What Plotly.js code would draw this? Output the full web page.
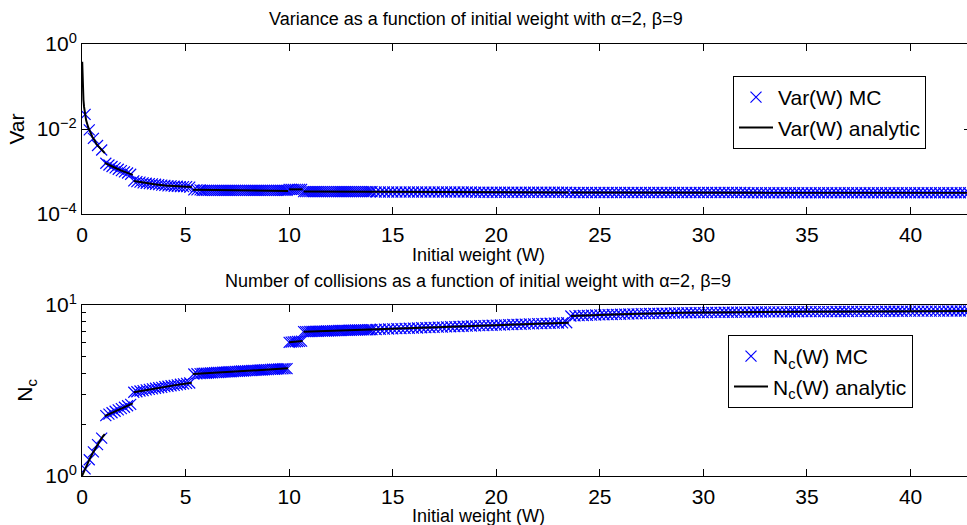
<!DOCTYPE html>
<html><head><meta charset="utf-8">
<script src="https://cdn.plot.ly/plotly-3.0.1.min.js"></script>
<style>html,body{margin:0;padding:0;overflow:hidden;background:#fff}#chart{width:971px;height:525px}</style>
</head><body><div id="chart"></div>
<script>
// ---- data ----
const titleTop = 'Variance as a function of initial weight with α=2, β=9';
const titleBottom = 'Number of collisions as a function of initial weight with α=2, β=9';
const xLabel = 'Initial weight (W)';
const xTickVals = [0, 5, 10, 15, 20, 25, 30, 35, 40];
const varTickVals = [1e-4, 1e-2, 1];
const varTickText = ['10<sup>−4</sup>', '10<sup>−2</sup>', '10<sup>0</sup>'];
const ncTickVals = [1, 10];
const ncTickText = ['10<sup>0</sup>', '10<sup>1</sup>'];
const ncMinorVals = [2, 3, 4, 5, 6, 7, 8, 9];

// Monte Carlo sample weights
const mcW = [
  0.15,0.35,0.55,0.75,0.95,
  1.15,1.3,1.45,1.6,1.75,1.9,2.05,2.2,2.35,
  2.5,2.65,2.8,2.95,3.1,3.25,3.4,3.55,3.7,3.85,4.0,4.15,4.3,4.45,4.6,4.75,4.9,5.05,5.2,
  5.4,5.55,5.7,
  5.8,5.9,6.0,6.1,6.2,6.3,6.4,6.5,6.6,6.7,6.8,6.9,7.0,7.1,7.2,7.3,7.4,7.5,7.6,7.7,7.8,7.9,
  8.0,8.1,8.2,8.3,8.4,8.5,8.6,8.7,8.8,8.9,9.0,9.1,9.2,9.3,9.4,9.5,9.6,9.7,9.8,9.9,
  10.0,10.1,10.2,10.3,10.4,10.5,10.6,
  10.7,10.8,10.9,11.0,11.1,11.2,11.3,11.4,11.5,11.6,11.7,11.8,11.9,12.0,12.1,12.2,12.3,12.4,
  12.5,12.6,12.7,12.8,12.9,13.0,13.1,13.2,13.3,13.4,13.5,13.6,13.7,13.8,13.9,14.0,
  14.2,14.4,14.6,14.8,15.0,15.2,15.4,15.6,15.8,16.0,
  16.2,16.4,16.6,16.8,17.0,17.2,17.4,17.6,17.8,18.0,
  18.2,18.4,18.6,18.8,19.0,19.2,19.4,19.6,19.8,20.0,
  20.2,20.4,20.6,20.8,21.0,21.2,21.4,21.6,21.8,22.0,
  22.2,22.4,22.6,22.8,23.0,23.2,23.4,
  23.6,23.8,24.0,24.2,24.4,24.6,24.8,25.0,25.2,25.4,
  25.6,25.8,26.0,26.2,26.4,26.6,26.8,27.0,27.2,27.4,
  27.6,27.8,28.0,28.2,28.4,28.6,28.8,29.0,29.2,29.4,
  29.6,29.8,30.0,30.2,30.4,30.6,30.8,31.0,31.2,31.4,
  31.6,31.8,32.0,32.2,32.4,32.6,32.8,33.0,33.2,33.4,
  33.6,33.8,34.0,34.2,34.4,34.6,34.8,35.0,35.2,35.4,
  35.6,35.8,36.0,36.2,36.4,36.6,36.8,37.0,37.2,37.4,
  37.6,37.8,38.0,38.2,38.4,38.6,38.8,39.0,39.2,39.4,
  39.6,39.8,40.0,40.2,40.4,40.6,40.8,41.0,41.2,41.4,
  41.6,41.8,42.0,42.2,42.4,42.6,42.8
];
// Var(W) Monte Carlo
const mcVar = [
  0.022,0.0095,0.006,0.0041,0.0032,
  0.00156,0.00142,0.00131,0.00122,0.00113,0.00105,0.00098,0.00092,0.00086,
  0.0006,0.00058,0.00056,0.00054,0.00053,0.00052,0.00051,0.0005,0.00049,0.00048,0.00047,0.00046,0.00046,0.00045,0.00045,0.00044,0.00044,0.00044,0.00043,
  0.00037,0.00037,0.00037,
  0.00036,0.00036,0.00036,0.00036,0.00036,0.00036,0.00036,0.00036,0.00036,0.00036,0.00036,0.00036,0.00036,0.00036,
  0.00036,0.00036,0.00036,0.00036,0.00036,0.00036,0.00036,0.00036,0.00036,0.00036,0.00036,0.00036,0.00036,0.00036,
  0.00036,0.00036,0.00036,0.00036,0.00036,0.00036,0.00036,0.00036,0.00036,0.00036,0.00036,0.00036,0.00036,0.00036,
  0.00038,0.00038,0.00038,0.00038,0.00038,0.00038,0.00038,
  0.000335,0.000335,0.000335,0.000335,0.000335,0.000335,0.000335,0.000335,0.000335,0.000335,0.000335,0.000335,
  0.000335,0.000335,0.000335,0.000335,0.000335,0.000335,0.000335,0.000335,0.000335,0.000335,0.000335,0.000335,
  0.000335,0.000335,0.000335,0.000335,0.000335,0.000335,0.000335,0.000335,0.000335,0.000335,
  0.00033,0.00033,0.00033,0.00033,0.00033,0.00033,0.00033,0.00033,0.00033,0.00033,
  0.00033,0.00033,0.00033,0.00033,0.00033,0.00033,0.00033,0.00033,0.00033,0.00033,
  0.00033,0.00033,0.00033,0.00033,0.000325,0.000325,0.000325,0.000325,0.000325,0.000325,
  0.000325,0.000325,0.000325,0.000325,0.000325,0.000325,0.000325,0.000325,0.000325,0.000325,
  0.000325,0.000325,0.000325,0.000325,0.000325,0.000325,0.000325,
  0.00032,0.00032,0.00032,0.00032,0.00032,0.00032,0.00032,0.00032,0.00032,0.00032,
  0.00032,0.00032,0.00032,0.00032,0.00032,0.00032,0.00032,0.00032,0.00032,0.00032,
  0.00032,0.00032,0.00032,0.00032,0.00032,0.00032,0.00032,0.00032,0.00032,0.00032,
  0.00032,0.00032,0.00032,0.00032,0.00032,0.00032,0.00032,0.00032,0.00032,0.00032,
  0.00032,0.00032,0.00032,0.000316,0.000316,0.000316,0.000316,0.000316,0.000316,0.000316,
  0.000316,0.000316,0.000316,0.000316,0.000316,0.000316,0.000316,0.000316,0.000316,0.000316,
  0.000316,0.000316,0.000316,0.000316,0.000316,0.000316,0.000316,0.000316,0.000316,0.000316,
  0.000316,0.000316,0.000316,0.000316,0.000316,0.000316,0.000316,0.000316,0.000316,0.000316,
  0.000316,0.000316,0.000316,0.000316,0.000316,0.000316,0.000316,0.000316,0.000316,0.000316,
  0.000316,0.000316,0.000316,0.000316,0.000316,0.000316,0.000316
];
// N_c(W) Monte Carlo
const mcNc = [
  1.1,1.245,1.385,1.525,1.665,
  2.255,2.3,2.345,2.39,2.435,2.48,2.525,2.575,2.625,
  3.09,3.11,3.14,3.16,3.19,3.21,3.23,3.26,3.28,3.3,3.33,3.35,3.37,3.39,3.41,3.44,3.46,3.48,3.5,
  3.95,3.96,3.97,
  3.98,3.99,3.99,4.0,4.01,4.01,4.02,4.03,4.03,4.04,4.05,4.05,4.06,4.07,4.07,4.08,4.09,4.09,4.1,4.11,4.11,
  4.12,4.13,4.13,4.14,4.15,4.15,4.16,4.17,4.17,4.18,4.19,4.19,4.2,4.21,4.21,4.22,4.23,4.23,4.24,4.25,4.25,
  6.05,6.07,6.08,6.1,6.12,6.13,6.15,
  6.98,6.99,6.99,7.0,7.0,7.01,7.02,7.02,7.03,7.03,7.04,7.05,7.05,7.06,7.07,7.07,7.08,
  7.09,7.09,7.1,7.1,7.11,7.12,7.12,7.13,7.14,7.14,7.15,7.15,7.16,7.16,7.17,7.17,7.18,
  7.19,7.21,7.22,7.24,7.25,7.27,7.28,7.3,7.31,7.33,
  7.34,7.36,7.37,7.39,7.4,7.42,7.43,7.45,7.46,7.48,
  7.49,7.51,7.52,7.54,7.55,7.57,7.58,7.6,7.61,7.63,
  7.64,7.66,7.67,7.69,7.7,7.72,7.73,7.75,7.76,7.78,
  7.79,7.8,7.82,7.83,7.85,7.86,7.87,
  8.62,8.64,8.66,8.68,8.7,8.72,8.74,8.75,8.77,8.79,
  8.8,8.82,8.83,8.84,8.86,8.87,8.88,8.9,8.91,8.92,
  8.93,8.94,8.95,8.96,8.97,8.98,8.99,9.0,9.01,9.01,
  9.02,9.03,9.03,9.04,9.05,9.05,9.06,9.07,9.07,9.07,
  9.08,9.08,9.09,9.09,9.1,9.1,9.1,9.11,9.11,9.11,
  9.12,9.12,9.12,9.13,9.13,9.13,9.14,9.14,9.14,9.14,
  9.15,9.15,9.15,9.15,9.16,9.16,9.16,9.16,9.17,9.17,
  9.17,9.17,9.18,9.18,9.18,9.18,9.19,9.19,9.19,9.19,
  9.19,9.2,9.2,9.2,9.2,9.2,9.21,9.21,9.21,9.21,
  9.21,9.22,9.22,9.22,9.22,9.22,9.23
];
// analytic curves (null separates the discontinuous branches)
const varLineW = [0.01,0.02,0.04,0.07,0.1,0.15,0.2,0.3,0.4,0.5,0.6,0.7,0.8,0.9,1.0,1.1, null,
  1.1,1.3,1.5,1.7,1.9,2.1,2.3,2.45, null, 2.5,3.0,3.5,4.0,4.5,5.0,5.3, null,
  5.35,7,8.5,9.95, null, 10.0,10.65, null, 10.7,14,18,23.5, null, 23.6,30,36,43];
const varLine = [0.38,0.17,0.085,0.048,0.033,0.022,0.016,0.011,0.0082,0.0065,0.0055,0.0044,0.0039,0.0034,0.003,0.0027, null,
  0.0016,0.00142,0.00128,0.00116,0.00105,0.00096,0.00088,0.00083, null,
  0.0006,0.00054,0.0005,0.00047,0.00045,0.00044,0.00043, null,
  0.00037,0.00036,0.00036,0.00035, null, 0.00038,0.00038, null,
  0.00034,0.000335,0.00033,0.00032, null, 0.00032,0.000318,0.000316,0.000315];
const ncLineW = [0,0.1,0.2,0.3,0.4,0.5,0.6,0.7,0.8,0.9,1.0,1.1, null, 1.1,1.5,2.0,2.45, null,
  2.5,3.5,4.5,5.3, null, 5.35,7,8.5,9.95, null, 10.0,10.65, null,
  10.7,12,14,16,18,20,22,23.5, null, 23.6,26,29,32,35,38,43];
const ncLine = [1.0,1.07,1.14,1.21,1.28,1.35,1.42,1.49,1.56,1.63,1.7,1.76, null, 2.24,2.36,2.51,2.66, null,
  3.09,3.25,3.4,3.51, null, 3.95,4.06,4.16,4.26, null, 6.05,6.15, null,
  6.98,7.06,7.18,7.33,7.48,7.63,7.78,7.88, null, 8.62,8.83,9.0,9.09,9.14,9.17,9.23];

// ---- drawing ----
const FONT = 'Liberation Sans, Arial, Helvetica, sans-serif';
const W = 971, H = 525, L = 82;
const px2x = p => (p - L) / (W - L);
const px2y = p => 1 - p / H;

const mk = {symbol: 'x-thin', size: 11, color: '#0000ff', line: {color: '#0000ff', width: 1.2}};
const traces = [
  {x: mcW, y: mcVar, xaxis: 'x', yaxis: 'y', mode: 'markers', name: 'Var(W) MC', marker: mk, legend: 'legend'},
  {x: varLineW, y: varLine, xaxis: 'x', yaxis: 'y', mode: 'lines', name: 'Var(W) analytic',
   line: {color: '#000', width: 2}, connectgaps: false, legend: 'legend'},
  {x: mcW, y: mcNc, xaxis: 'x2', yaxis: 'y2', mode: 'markers', name: 'N<sub>c</sub>(W) MC', marker: mk, legend: 'legend2'},
  {x: ncLineW, y: ncLine, xaxis: 'x2', yaxis: 'y2', mode: 'lines', name: 'N<sub>c</sub>(W) analytic',
   line: {color: '#000', width: 2}, connectgaps: false, legend: 'legend2'}
];

const xr = [0, (W - L) / 20.714];
const xAx = (anchor) => ({
  anchor: anchor, domain: [0, 1], range: xr, tickmode: 'array', tickvals: xTickVals,
  ticks: 'inside', ticklen: 7, tickcolor: '#000', tickwidth: 1, mirror: 'ticks',
  showline: true, linecolor: '#000', linewidth: 1, showgrid: false, zeroline: false,
  ticklabelstandoff: 2,
  tickfont: {family: FONT, size: 21, color: '#000'}
});
const yBase = {
  type: 'log', ticks: 'inside', ticklen: 7, tickcolor: '#000', tickwidth: 1, mirror: 'ticks',
  showline: true, linecolor: '#000', linewidth: 1, showgrid: false, zeroline: false,
  tickmode: 'array', tickfont: {family: FONT, size: 21, color: '#000'}
};
const legBase = {xanchor: 'left', yanchor: 'top', bgcolor: '#fff', bordercolor: '#000', borderwidth: 1,
  font: {family: FONT, size: 21, color: '#000'}, tracegroupgap: 0, itemwidth: 34};
const annFont = {family: FONT, size: 18, color: '#000'};

const layout = {
  width: W, height: H, margin: {l: L, r: 0, t: 0, b: 0}, paper_bgcolor: '#fff', plot_bgcolor: '#fff',
  showlegend: true,
  xaxis: xAx('y'),
  xaxis2: xAx('y2'),
  yaxis: Object.assign({}, yBase, {anchor: 'x', domain: [px2y(214), px2y(44)], range: [-4, 0],
    tickvals: varTickVals, ticktext: varTickText,
    title: {text: 'Var', font: {family: FONT, size: 21, color: '#000'}, standoff: 6}}),
  yaxis2: Object.assign({}, yBase, {anchor: 'x2', domain: [px2y(476), px2y(305)], range: [0, 1],
    tickvals: ncTickVals, ticktext: ncTickText,
    minor: {tickmode: 'array', tickvals: ncMinorVals, ticks: 'inside', ticklen: 4, tickcolor: '#000', showgrid: false},
    title: {text: 'N<sub>c</sub>', font: {family: FONT, size: 21, color: '#000'}, standoff: 6}}),
  legend: Object.assign({}, legBase, {x: px2x(733), y: px2y(76)}),
  legend2: Object.assign({}, legBase, {x: px2x(728), y: px2y(335)}),
  annotations: [
    {text: titleTop, xref: 'paper', yref: 'paper', x: px2x(476), y: px2y(19), xanchor: 'center', yanchor: 'middle',
     showarrow: false, font: annFont},
    {text: xLabel, xref: 'paper', yref: 'paper', x: px2x(478), y: px2y(255), xanchor: 'center', yanchor: 'middle',
     showarrow: false, font: annFont},
    {text: titleBottom, xref: 'paper', yref: 'paper', x: px2x(478), y: px2y(281), xanchor: 'center', yanchor: 'middle',
     showarrow: false, font: annFont},
    {text: xLabel, xref: 'paper', yref: 'paper', x: px2x(478), y: px2y(516), xanchor: 'center', yanchor: 'middle',
     showarrow: false, font: annFont}
  ]
};
Plotly.newPlot('chart', traces, layout, {displayModeBar: false, staticPlot: true});
</script></body></html>
